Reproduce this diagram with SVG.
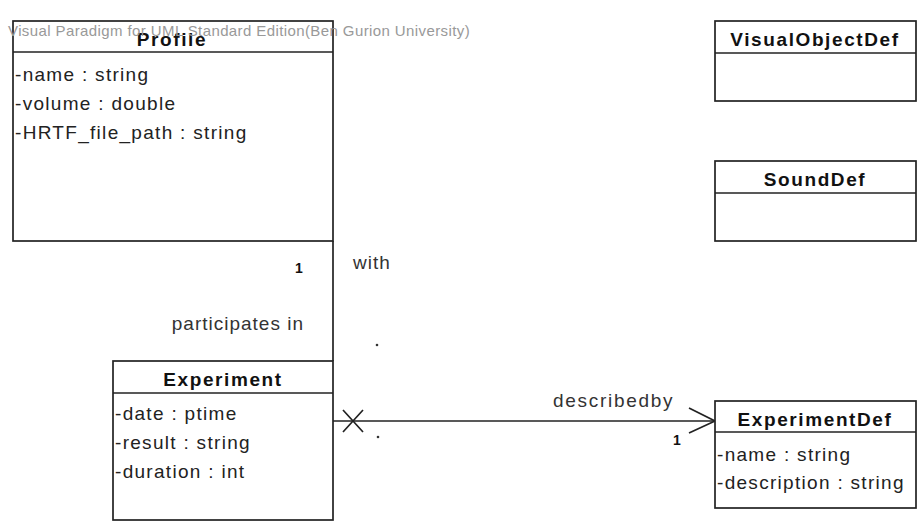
<svg xmlns="http://www.w3.org/2000/svg" width="919" height="529" viewBox="0 0 919 529">
<style>
.box{fill:#fff;stroke:#222;stroke-width:1.7}
.sep{stroke:#222;stroke-width:1.7}
.title{font-family:"Liberation Sans",Arial,sans-serif;font-size:19px;font-weight:bold;fill:#111;text-anchor:middle;letter-spacing:1.6px}
.attr{font-family:"Liberation Sans",Arial,sans-serif;font-size:19px;fill:#222;letter-spacing:1.3px}
.lbl{font-family:"Liberation Sans",Arial,sans-serif;font-size:19px;fill:#333;letter-spacing:1px}
.mult{font-family:"Liberation Sans",Arial,sans-serif;font-size:14px;fill:#111;font-weight:bold}
.wm{font-family:"Liberation Sans",Arial,sans-serif;font-size:15px;fill:#999;letter-spacing:0.4px}
.line{fill:none;stroke:#222;stroke-width:1.7}
</style>
<rect width="919" height="529" fill="#fff"/>
<g id="connectors">
  <line class="line" x1="333" y1="241" x2="333" y2="361"/>
  <line class="line" x1="333" y1="421" x2="715" y2="421"/>
  <path class="line" d="M343 410 L363 432 M343 432 L363 410"/>
  <path class="line" d="M689 408 L715 421 L689 433"/>
  <text class="mult" x="295" y="273">1</text>
  <text class="lbl" x="353" y="269">with</text>
  <text class="lbl" x="304" y="330" text-anchor="end">participates in</text>
  <circle cx="377" cy="345" r="1.3" fill="#333"/>
  <circle cx="378" cy="437" r="1.3" fill="#333"/>
  <text class="lbl" x="553" y="407" style="letter-spacing:1.7px">describedby</text>
  <text class="mult" x="673" y="445">1</text>
</g>
<g id="profile">
  <rect class="box" x="13" y="21" width="320" height="220"/>
  <line class="sep" x1="13" y1="52" x2="333" y2="52"/>
  <text class="title" x="172" y="46">Profile</text>
  <text class="attr" x="15" y="81">-name : string</text>
  <text class="attr" x="15" y="110">-volume : double</text>
  <text class="attr" x="15" y="139">-HRTF_file_path : string</text>
</g>
<text class="wm" x="8" y="36">Visual Paradigm for UML Standard Edition(Ben Gurion University)</text>
<g id="visualobjectdef">
  <rect class="box" x="715" y="21" width="201" height="80"/>
  <line class="sep" x1="715" y1="53" x2="916" y2="53"/>
  <text class="title" x="815" y="46">VisualObjectDef</text>
</g>
<g id="sounddef">
  <rect class="box" x="715" y="161" width="201" height="80"/>
  <line class="sep" x1="715" y1="193" x2="916" y2="193"/>
  <text class="title" x="815" y="186">SoundDef</text>
</g>
<g id="experiment">
  <rect class="box" x="113" y="361" width="220" height="159"/>
  <line class="sep" x1="113" y1="393" x2="333" y2="393"/>
  <text class="title" x="223" y="386">Experiment</text>
  <text class="attr" x="115" y="420">-date : ptime</text>
  <text class="attr" x="115" y="449">-result : string</text>
  <text class="attr" x="115" y="478">-duration : int</text>
</g>
<g id="experimentdef">
  <rect class="box" x="715" y="401" width="201" height="107"/>
  <line class="sep" x1="715" y1="432" x2="916" y2="432"/>
  <text class="title" x="815" y="426">ExperimentDef</text>
  <text class="attr" x="717" y="461">-name : string</text>
  <text class="attr" x="717" y="489">-description : string</text>
</g>
</svg>
